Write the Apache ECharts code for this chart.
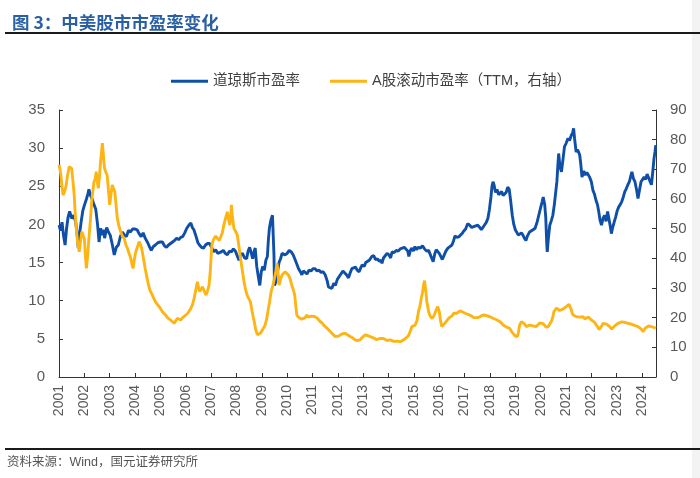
<!DOCTYPE html>
<html><head><meta charset="utf-8">
<script src="https://cdn.jsdelivr.net/npm/echarts@6/dist/echarts.min.js"></script>
<style>html,body{margin:0;padding:0;background:#fff}#c{width:700px;height:478px}</style>
</head><body><div id="c"></div>
<script>
// Dow Jones P/E (left axis): decimal year, value
const dowYears = [2001.00,2001.06,2001.12,2001.18,2001.24,2001.30,2001.36,2001.42,2001.50,2001.58,2001.66,2001.72,2001.76,2001.82,2001.88,2001.94,
2002.00,2002.08,2002.14,2002.18,2002.24,2002.30,2002.38,2002.45,2002.52,2002.58,2002.64,2002.70,2002.76,2002.80,2002.88,2002.95,
2003.02,2003.10,2003.18,2003.26,2003.34,2003.42,2003.50,2003.58,2003.66,2003.74,2003.82,2003.90,
2004.00,2004.08,2004.16,2004.24,2004.32,2004.40,2004.50,2004.58,2004.64,2004.72,2004.80,2004.90,
2005.00,2005.08,2005.16,2005.24,2005.32,2005.40,2005.48,2005.56,2005.64,2005.72,2005.80,2005.88,2005.96,
2006.04,2006.12,2006.20,2006.26,2006.32,2006.40,2006.48,2006.54,2006.62,2006.70,2006.78,2006.86,2006.94,
2007.02,2007.10,2007.18,2007.26,2007.32,2007.40,2007.48,2007.56,2007.64,2007.72,2007.80,2007.88,2007.96,
2008.04,2008.10,2008.16,2008.24,2008.32,2008.40,2008.46,2008.52,2008.58,2008.64,2008.70,2008.74,2008.80,2008.86,2008.92,2008.98,
2009.04,2009.10,2009.16,2009.22,2009.26,2009.30,2009.36,2009.42,2009.46,2009.48,2009.50,2009.56,2009.62,2009.68,2009.74,2009.80,2009.86,2009.92,
2010.00,2010.08,2010.16,2010.24,2010.30,2010.38,2010.45,2010.52,2010.58,2010.64,2010.70,2010.78,2010.86,2010.94,
2011.02,2011.10,2011.18,2011.26,2011.34,2011.42,2011.50,2011.58,2011.63,2011.70,2011.76,2011.84,2011.90,2011.98,
2012.06,2012.12,2012.20,2012.26,2012.34,2012.42,2012.48,2012.55,2012.62,2012.70,2012.76,2012.84,2012.90,2012.96,
2013.04,2013.10,2013.16,2013.24,2013.34,2013.42,2013.48,2013.56,2013.62,2013.70,2013.74,2013.80,2013.86,2013.94,
2014.02,2014.08,2014.14,2014.22,2014.30,2014.38,2014.46,2014.54,2014.62,2014.68,2014.76,2014.80,2014.86,2014.92,2014.98,
2015.04,2015.10,2015.18,2015.26,2015.34,2015.42,2015.50,2015.58,2015.64,2015.70,2015.76,2015.82,2015.88,2015.94,
2016.00,2016.06,2016.12,2016.18,2016.26,2016.34,2016.42,2016.50,2016.56,2016.62,2016.70,2016.78,2016.84,2016.90,2016.96,
2017.04,2017.12,2017.20,2017.28,2017.36,2017.44,2017.52,2017.60,2017.66,2017.72,2017.80,2017.86,2017.92,2017.98,
2018.04,2018.08,2018.12,2018.16,2018.22,2018.28,2018.34,2018.40,2018.46,2018.52,2018.58,2018.64,2018.70,2018.76,2018.82,2018.88,2018.94,
2019.00,2019.06,2019.12,2019.18,2019.24,2019.30,2019.36,2019.42,2019.48,2019.56,2019.62,2019.70,2019.78,2019.86,2019.94,
2020.00,2020.06,2020.10,2020.16,2020.20,2020.24,2020.26,2020.30,2020.36,2020.42,2020.48,2020.54,2020.60,2020.64,2020.68,2020.71,2020.76,2020.82,2020.88,2020.94,
2021.00,2021.08,2021.14,2021.21,2021.26,2021.30,2021.34,2021.40,2021.46,2021.54,2021.58,2021.63,2021.70,2021.76,2021.82,2021.88,2021.93,
2022.00,2022.06,2022.12,2022.18,2022.24,2022.29,2022.34,2022.40,2022.46,2022.52,2022.58,2022.64,2022.70,2022.76,2022.79,2022.84,2022.90,2022.96,
2023.02,2023.08,2023.14,2023.20,2023.26,2023.32,2023.38,2023.44,2023.50,2023.56,2023.60,2023.66,2023.72,2023.78,2023.84,2023.90,2023.96,
2024.02,2024.08,2024.14,2024.20,2024.26,2024.32,2024.37,2024.42,2024.47,2024.51,2024.54];
const dowPE = [19.9,19.2,20.3,18.5,17.3,19.5,21.0,21.7,20.8,21.2,20.3,18.5,16.9,19.0,20.5,21.8,
22.5,23.3,24.0,24.6,23.8,23.4,22.6,22.0,20.0,17.7,19.5,18.6,19.3,18.2,19.6,19.0,
18.6,17.4,16.0,17.0,17.3,18.4,19.0,18.6,18.4,19.2,19.0,19.4,
19.4,19.3,18.8,18.4,18.9,18.2,17.6,17.0,16.6,17.1,17.3,17.6,
17.7,17.7,17.2,17.0,17.3,17.5,17.7,17.9,18.2,18.0,18.3,18.4,18.9,
19.5,19.9,20.2,19.6,19.3,18.5,17.6,17.3,17.0,16.9,17.3,17.5,17.5,
17.0,16.4,16.7,16.2,16.0,16.4,16.6,16.2,16.0,16.5,16.4,16.8,16.5,
15.8,15.3,16.0,16.2,15.6,15.5,16.5,17.0,16.3,15.5,16.5,16.9,14.5,13.2,12.0,13.8,
14.5,14.0,15.3,15.8,18.0,19.5,20.6,21.2,21.4,16.0,12.0,12.5,13.8,15.0,15.5,16.2,16.4,16.0,
16.2,16.6,16.4,16.0,15.5,14.8,14.2,13.8,13.4,13.9,13.8,13.5,14.0,13.9,
14.2,14.2,13.9,14.0,13.7,13.8,13.4,12.6,11.8,12.0,11.6,12.3,12.0,12.8,
13.2,13.4,13.9,14.0,13.4,13.0,13.6,14.2,14.3,14.4,14.0,13.8,14.3,14.7,
14.5,15.0,15.1,15.3,15.8,15.9,15.4,15.5,15.2,15.3,14.9,15.6,15.8,16.2,
16.0,15.6,16.4,16.3,16.6,16.5,16.8,16.9,17.0,17.1,16.5,15.8,16.6,16.9,16.5,
17.1,16.7,17.0,16.9,17.2,16.8,16.5,16.6,16.4,15.6,15.1,16.1,16.7,16.9,
16.2,15.8,15.4,15.6,16.5,16.9,17.1,17.3,17.8,18.5,18.3,18.4,18.2,18.8,19.1,
19.4,20.1,19.9,19.6,19.7,19.8,19.9,19.6,19.3,19.6,20.0,20.3,20.8,22.0,
23.6,25.0,25.6,25.2,24.2,24.6,23.9,24.1,24.3,23.8,23.6,24.2,24.9,24.6,23.0,21.2,20.0,
19.3,19.5,18.6,18.4,18.9,18.6,18.2,17.9,18.5,19.0,18.8,19.3,19.5,20.3,21.4,
22.2,23.0,23.6,22.6,21.0,17.5,16.4,18.0,19.9,20.5,21.2,22.6,24.4,25.6,27.8,29.3,27.6,26.9,28.5,30.2,
30.6,31.3,31.0,31.7,32.0,32.6,31.2,29.5,29.8,29.1,28.0,26.2,27.0,26.5,26.8,26.5,26.2,
25.6,24.5,24.0,23.2,22.6,21.7,20.6,19.9,20.8,21.2,20.4,21.7,20.6,19.5,18.8,19.6,20.3,21.0,
21.8,22.3,22.6,23.0,23.6,24.3,24.7,25.2,25.6,26.4,26.9,26.0,25.6,24.6,23.4,24.5,25.6,
25.8,26.2,25.9,26.6,26.4,25.6,25.2,26.8,28.6,29.5,30.4];

// A-share TTM P/E (right axis)
const aYears = [2001.00,2001.04,2001.08,2001.12,2001.16,2001.22,2001.28,2001.34,2001.40,2001.46,2001.50,2001.55,2001.60,2001.64,2001.68,2001.74,2001.80,2001.86,2001.90,2001.96,
2002.00,2002.04,2002.08,2002.12,2002.18,2002.24,2002.30,2002.38,2002.42,2002.47,2002.51,2002.55,2002.60,2002.64,2002.68,2002.71,2002.75,2002.79,2002.84,2002.90,2002.95,
2003.00,2003.05,2003.10,2003.15,2003.20,2003.25,2003.30,2003.36,2003.43,2003.50,2003.57,2003.64,2003.70,2003.77,2003.83,2003.88,2003.92,2003.97,
2004.03,2004.10,2004.16,2004.22,2004.26,2004.33,2004.40,2004.47,2004.53,2004.60,2004.68,2004.74,2004.80,2004.88,2004.94,
2005.00,2005.08,2005.14,2005.20,2005.28,2005.34,2005.40,2005.47,2005.54,2005.60,2005.67,2005.74,2005.80,2005.88,2005.94,
2006.00,2006.08,2006.14,2006.20,2006.27,2006.33,2006.40,2006.46,2006.51,2006.55,2006.60,2006.66,2006.73,2006.80,2006.86,2006.92,2006.97,
2007.03,2007.08,2007.12,2007.18,2007.25,2007.32,2007.38,2007.44,2007.50,2007.57,2007.64,2007.69,2007.74,2007.78,2007.80,2007.84,2007.90,2007.97,
2008.03,2008.10,2008.16,2008.23,2008.30,2008.36,2008.42,2008.48,2008.55,2008.62,2008.70,2008.76,2008.83,2008.90,2008.95,
2009.00,2009.07,2009.13,2009.19,2009.24,2009.30,2009.37,2009.44,2009.50,2009.56,2009.60,2009.64,2009.68,2009.74,2009.80,2009.86,2009.92,2009.98,
2010.05,2010.12,2010.18,2010.24,2010.30,2010.34,2010.38,2010.44,2010.50,2010.57,2010.64,2010.71,2010.78,2010.84,2010.90,2010.97,
2011.04,2011.10,2011.18,2011.24,2011.30,2011.38,2011.44,2011.50,2011.58,2011.64,2011.70,2011.78,2011.84,2011.90,2011.97,
2012.03,2012.10,2012.18,2012.24,2012.30,2012.38,2012.44,2012.50,2012.58,2012.64,2012.68,2012.76,2012.82,2012.88,2012.94,
2013.00,2013.08,2013.14,2013.20,2013.28,2013.34,2013.40,2013.47,2013.52,2013.58,2013.67,2013.74,2013.80,2013.87,2013.94,
2014.00,2014.07,2014.14,2014.20,2014.26,2014.34,2014.40,2014.46,2014.52,2014.60,2014.66,2014.74,2014.80,2014.86,2014.92,2014.98,
2015.05,2015.12,2015.18,2015.24,2015.29,2015.34,2015.38,2015.42,2015.45,2015.48,2015.51,2015.55,2015.58,2015.64,2015.71,2015.78,2015.84,2015.90,2015.93,2015.97,
2016.00,2016.05,2016.10,2016.16,2016.22,2016.30,2016.37,2016.44,2016.50,2016.57,2016.64,2016.70,2016.76,2016.82,2016.90,2016.96,
2017.02,2017.10,2017.20,2017.28,2017.36,2017.42,2017.50,2017.60,2017.68,2017.76,2017.82,2017.90,
2018.00,2018.06,2018.12,2018.18,2018.26,2018.32,2018.38,2018.46,2018.52,2018.58,2018.66,2018.72,2018.78,2018.84,2018.90,2018.95,
2019.00,2019.08,2019.12,2019.17,2019.24,2019.30,2019.37,2019.43,2019.50,2019.57,2019.63,2019.70,2019.77,2019.83,2019.90,2019.96,
2020.03,2020.09,2020.16,2020.22,2020.30,2020.36,2020.42,2020.48,2020.52,2020.55,2020.62,2020.68,2020.75,2020.82,2020.88,2020.95,
2021.02,2021.08,2021.12,2021.15,2021.20,2021.24,2021.28,2021.34,2021.41,2021.48,2021.54,2021.60,2021.68,2021.74,2021.80,2021.88,2021.94,
2022.00,2022.06,2022.12,2022.20,2022.26,2022.30,2022.33,2022.38,2022.46,2022.52,2022.60,2022.66,2022.72,2022.80,2022.86,2022.92,2022.98,
2023.05,2023.12,2023.20,2023.25,2023.32,2023.38,2023.45,2023.52,2023.58,2023.64,2023.70,2023.77,2023.84,2023.90,2023.96,
2024.04,2024.08,2024.13,2024.20,2024.26,2024.32,2024.37,2024.44,2024.50,2024.54];
const aPE = [71.5,70.0,67.5,64.0,61.3,62.5,64.5,68.0,70.9,71.0,70.3,66.0,61.3,55.0,50.1,45.0,42.2,46.5,49.0,47.5,
46.7,41.0,36.6,40.0,46.7,53.0,60.2,65.8,66.5,69.2,66.0,63.6,68.0,72.6,76.0,78.8,75.0,70.5,69.2,68.0,63.0,
58.0,61.5,64.7,63.5,62.5,58.0,53.5,51.0,49.0,47.5,46.7,44.5,43.4,41.5,40.0,38.0,36.6,39.5,
42.2,44.0,45.6,44.5,43.4,40.0,36.6,33.5,31.0,29.0,27.6,26.5,25.4,24.5,24.0,
23.1,22.0,21.5,20.9,20.0,19.5,19.2,18.6,18.1,18.8,19.8,19.5,19.2,20.0,20.5,
20.9,21.5,22.0,23.1,24.5,26.5,29.5,32.1,30.0,28.8,29.5,30.4,29.0,27.6,29.0,31.0,36.0,
44.5,46.0,46.7,47.5,47.3,46.0,45.6,48.5,51.2,53.5,55.7,53.0,51.2,55.0,58.0,54.0,50.1,49.0,
47.9,44.0,40.0,36.0,32.1,29.5,27.6,26.5,25.4,22.0,18.7,16.0,14.2,14.5,14.8,
15.3,16.5,17.5,19.5,22.0,25.0,28.8,31.0,33.3,36.0,38.3,35.0,31.0,33.0,34.4,35.0,35.5,35.0,
34.4,33.0,31.0,29.5,27.6,24.0,20.9,20.2,19.8,19.5,19.2,20.0,20.9,20.2,19.8,20.5,
20.6,20.3,19.9,19.3,18.7,18.2,17.5,17.0,16.4,15.8,15.3,14.6,14.0,13.6,13.3,
13.8,14.2,14.6,14.3,14.7,14.2,13.8,13.6,13.2,12.8,12.5,12.3,12.2,12.5,13.2,
13.8,14.2,14.5,13.9,13.6,13.5,13.2,13.0,12.6,12.9,13.0,13.3,13.0,12.5,12.3,
12.5,12.5,12.2,12.0,11.9,12.1,11.8,11.9,12.2,12.5,13.0,13.5,14.2,15.5,17.0,17.2,
17.5,19.0,22.0,24.0,26.5,28.5,31.0,32.5,32.1,28.0,25.4,23.5,22.0,20.6,19.8,20.5,20.9,23.0,23.7,23.0,
22.0,19.0,17.0,17.5,18.1,19.0,19.8,20.0,20.6,21.5,21.8,21.5,22.0,22.3,22.0,21.6,
21.5,21.2,20.9,20.5,20.0,19.8,20.0,20.3,20.7,20.9,21.0,20.6,
20.3,20.8,19.8,19.2,19.3,18.9,18.7,18.2,17.5,17.0,16.8,16.8,16.4,15.5,14.8,14.2,
13.8,13.6,15.0,17.5,18.7,18.7,17.8,17.0,17.3,17.5,17.5,17.2,17.4,17.0,17.6,18.2,
18.7,18.0,17.5,16.8,17.0,17.6,18.7,20.2,22.0,22.6,23.2,23.1,22.4,22.6,22.9,23.1,
23.8,24.0,24.5,24.3,22.8,21.6,20.9,21.3,20.3,20.6,20.2,19.8,20.3,19.6,19.8,20.2,19.7,
19.2,18.6,18.5,17.5,16.8,16.0,15.8,16.8,18.1,18.3,17.8,17.5,17.0,16.2,16.4,17.2,17.6,
18.1,18.3,18.6,18.7,18.4,18.2,18.1,17.8,17.8,17.5,17.4,17.1,17.0,16.5,16.2,
15.3,15.0,16.5,17.0,17.2,17.0,17.0,16.8,16.6,16.4];

const xTickYears = {min: 2001, max: 2024.55};
const leftTicks = {min: 0, max: 35, step: 5};
const rightTicks = {min: 0, max: 90, step: 10};
const seriesNames = ['道琼斯市盈率', 'A股滚动市盈率（TTM，右轴）'];

const zip = (xs, ys) => xs.map((x, i) => [x, ys[i]]);
const axisColor = '#333';
const labelColor = '#595959';
const fontFam = 'Liberation Sans, Arial, sans-serif';

const chart = echarts.init(document.getElementById('c'), null, {renderer: 'canvas'});
chart.setOption({
  animation: false,
  backgroundColor: '#fff',
  title: {
    text: '图 3：中美股市市盈率变化',
    left: 7, top: 9,
    textStyle: {color: '#2A5FA3', fontSize: 17.5, fontWeight: 'bold', fontFamily: 'Noto Sans CJK SC, sans-serif'}
  },
  legend: {
    left: 166, top: 69,
    itemWidth: 37, itemHeight: 3, itemGap: 30,
    icon: 'rect',
    textStyle: {color: '#404040', fontSize: 14.5, fontFamily: 'Liberation Sans, Noto Sans CJK SC, sans-serif'},
    data: seriesNames
  },
  grid: {left: 59, right: 44, top: 110, bottom: 101},
  xAxis: {
    type: 'value', min: xTickYears.min, max: xTickYears.max, interval: 1,
    splitLine: {show: false},
    axisLine: {lineStyle: {color: axisColor, width: 1}},
    axisTick: {inside: true, length: 4, lineStyle: {color: axisColor}},
    axisLabel: {
      rotate: 90, margin: 8, color: labelColor, fontSize: 14, fontFamily: fontFam,
      showMaxLabel: false,
      formatter: v => (Math.abs(v - Math.round(v)) < 1e-6 ? String(Math.round(v)) : '')
    }
  },
  yAxis: [{
    type: 'value', min: leftTicks.min, max: leftTicks.max, interval: leftTicks.step,
    splitLine: {show: false},
    axisLine: {show: true, lineStyle: {color: axisColor}},
    axisTick: {show: true, inside: true, length: 4, lineStyle: {color: axisColor}},
    axisLabel: {margin: 14, color: labelColor, fontSize: 15, fontFamily: fontFam}
  }, {
    type: 'value', min: rightTicks.min, max: rightTicks.max, interval: rightTicks.step,
    position: 'right',
    splitLine: {show: false},
    axisLine: {show: true, lineStyle: {color: axisColor}},
    axisTick: {show: true, inside: true, length: 4, lineStyle: {color: axisColor}},
    axisLabel: {margin: 14, color: labelColor, fontSize: 15, fontFamily: fontFam}
  }],
  series: [{
    name: seriesNames[0], type: 'line', yAxisIndex: 0, symbol: 'none',
    lineStyle: {color: '#0F4FA8', width: 2.9}, itemStyle: {color: '#0F4FA8'},
    data: zip(dowYears, dowPE)
  }, {
    name: seriesNames[1], type: 'line', yAxisIndex: 1, symbol: 'none',
    lineStyle: {color: '#FDB515', width: 2.9}, itemStyle: {color: '#FDB515'},
    data: zip(aYears, aPE)
  }],
  graphic: [
    {type: 'rect', z: -10, silent: true, shape: {x: 692, y: 0, width: 8, height: 478}, style: {fill: '#f3f3f3'}},
    {type: 'line', shape: {x1: 5, y1: 33, x2: 700, y2: 33}, style: {stroke: '#1a1a1a', lineWidth: 2}},
    {type: 'line', shape: {x1: 5, y1: 449, x2: 700, y2: 449}, style: {stroke: '#1a1a1a', lineWidth: 2}},
    {type: 'text', left: 7, top: 456, style: {text: '资料来源：Wind，国元证券研究所', fill: '#555', fontSize: 12.5, fontFamily: 'Liberation Sans, Noto Sans CJK SC, sans-serif'}}
  ]
});
</script></body></html>
